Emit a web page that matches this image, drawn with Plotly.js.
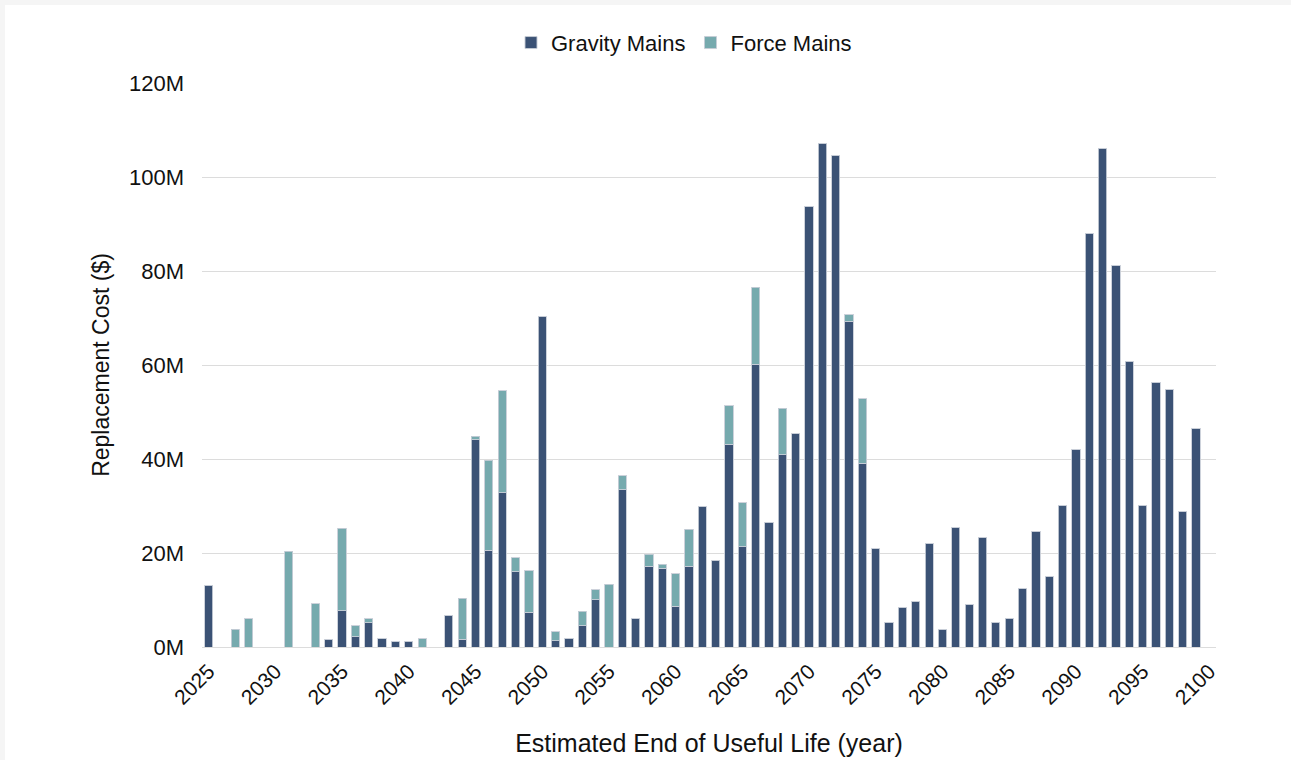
<!DOCTYPE html>
<html>
<head>
<meta charset="utf-8">
<script src="https://cdn.plot.ly/plotly-3.0.1.min.js"></script>
<style>
html,body{margin:0;padding:0;background:#f5f5f5;}
#chart{position:absolute;left:5px;top:5px;width:1286px;height:755px;background:#fff;}
</style>
</head>
<body>
<div id="chart"></div>
<script>
const years = [];
for (let y = 2025; y <= 2100; y++) years.push(y);

// Values in millions of dollars, one per year 2025..2100
const gravityMains = [
  13.1, 0, 0, 0, 0, 0, 0, 0, 0, 1.6,
  7.7, 2.2, 5.2, 1.8, 1.1, 1.2, 0, 0, 6.8, 1.7,
  44.1, 20.6, 32.8, 16.0, 7.4, 70.4, 1.3, 1.9, 4.5, 10.1,
  0, 33.5, 6.0, 17.2, 16.8, 8.7, 17.2, 29.9, 18.5, 43.1,
  21.3, 60.2, 26.5, 40.9, 45.4, 93.7, 107.2, 104.6, 69.3, 39.1,
  20.9, 5.3, 8.5, 9.7, 22.0, 3.7, 25.4, 9.0, 23.4, 5.3,
  6.1, 12.4, 24.6, 14.9, 30.1, 42.0, 88.0, 106.1, 81.1, 60.8,
  30.2, 56.2, 54.7, 28.8, 46.4, 0
];
const forceMains = [
  0, 0, 3.8, 6.0, 0, 0, 20.4, 0, 9.2, 0,
  17.6, 2.3, 0.8, 0, 0, 0, 1.8, 0, 0, 8.7,
  0.7, 19.1, 21.7, 3.0, 8.8, 0, 1.9, 0, 3.1, 2.1,
  13.3, 2.9, 0, 2.5, 0.8, 6.9, 7.9, 0, 0, 8.2,
  9.4, 16.3, 0, 9.9, 0, 0, 0, 0, 1.4, 13.7,
  0, 0, 0, 0, 0, 0, 0, 0, 0, 0,
  0, 0, 0, 0, 0, 0, 0, 0, 0, 0,
  0, 0, 0, 0, 0, 0
];
const yTickVals = [0, 20, 40, 60, 80, 100, 120];
const yTickText = ['0M', '20M', '40M', '60M', '80M', '100M', '120M'];
const xTickVals = [2025, 2030, 2035, 2040, 2045, 2050, 2055, 2060, 2065, 2070, 2075, 2080, 2085, 2090, 2095, 2100];

const FONT = 'Liberation Sans, Arial, sans-serif';
const outline = {color: 'rgba(200,205,215,0.9)', width: 1};

const traces = [
  {type: 'bar', name: 'Gravity Mains', x: years, y: gravityMains,
   marker: {color: '#3b5275', line: outline}},
  {type: 'bar', name: 'Force Mains', x: years, y: forceMains,
   marker: {color: '#76aaae', line: outline}}
];

const layout = {
  width: 1286, height: 755,
  margin: {l: 197, r: 75, t: 78, b: 113},
  paper_bgcolor: '#ffffff', plot_bgcolor: '#ffffff',
  barmode: 'stack', bargap: 0.38,
  font: {family: FONT, size: 22, color: '#111'},
  showlegend: true,
  legend: {orientation: 'h', traceorder: 'normal',
           x: 0.528, xref: 'container', xanchor: 'center',
           y: 0.95, yref: 'container', yanchor: 'middle',
           font: {family: FONT, size: 22, color: '#111'}, itemwidth: 30},
  xaxis: {
    range: [2024.5, 2100.5], tickvals: xTickVals, tickangle: -45,
    showgrid: false, zeroline: false, showline: false, ticks: '',
    tickfont: {family: FONT, size: 21, color: '#111'},
    ticklabelstandoff: 7,
    title: {text: 'Estimated End of Useful Life (year)', font: {family: FONT, size: 25, color: '#111'}, standoff: 26}
  },
  yaxis: {
    range: [0, 120], tickvals: yTickVals, ticktext: yTickText,
    showgrid: true, gridcolor: '#dcdcdc', gridwidth: 1,
    zeroline: true, zerolinecolor: '#dcdcdc', showline: false, ticks: '',
    tickfont: {family: FONT, size: 22, color: '#111'},
    ticklabelstandoff: 17,
    title: {text: 'Replacement Cost ($)', font: {family: FONT, size: 23, color: '#111'}, standoff: 12}
  }
};

Plotly.newPlot('chart', traces, layout, {displayModeBar: false, staticPlot: true});
</script>
</body>
</html>
